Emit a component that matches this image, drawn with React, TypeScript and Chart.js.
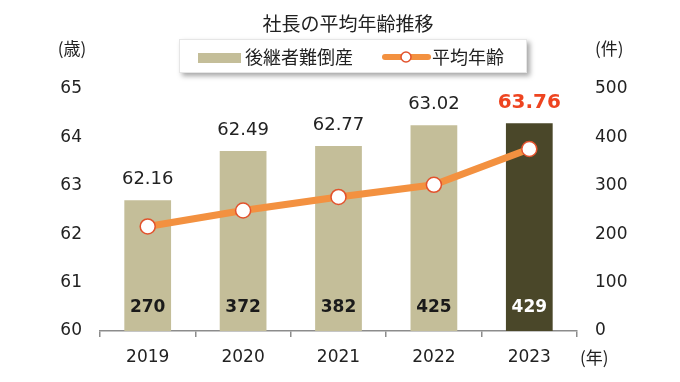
import React, { useEffect, useRef } from "react";
import { Chart, registerables } from "chart.js";

Chart.register(...registerables);

const chartTitle = "社長の平均年齢推移";
const years = ["2019", "2020", "2021", "2022", "2023"];
const bankruptcies = [270, 372, 382, 425, 429];
const averageAge = [62.16, 62.49, 62.77, 63.02, 63.76];
const barSeriesName = "後継者難倒産";
const lineSeriesName = "平均年齢";
const leftUnit = "(歳)";
const rightUnit = "(件)";
const xUnit = "(年)";

const NUM_FONT = "'DejaVu Sans', Verdana, sans-serif";
const JP_FONT = "'Noto Sans CJK JP', 'Noto Sans', sans-serif";
const BAR_COLOR = "#c4be99";
const BAR_LAST = "#4a4729";
const LINE_COLOR = "#f39140";
const POINT_BORDER = "#e2522c";
const RED_LABEL = "#ee4420";

const overlayPlugin = {
  id: "overlay",
  afterDraw(chart: any) {
    const ctx: CanvasRenderingContext2D = chart.ctx;
    const area = chart.chartArea;
    ctx.save();

    // Title
    ctx.fillStyle = "#222";
    ctx.font = `19px ${JP_FONT}`;
    ctx.textAlign = "center";
    ctx.textBaseline = "middle";
    ctx.fillText(chartTitle, 348, 24);

    // Legend box with shadow
    ctx.save();
    ctx.shadowColor = "rgba(0,0,0,0.35)";
    ctx.shadowBlur = 5;
    ctx.shadowOffsetX = 3;
    ctx.shadowOffsetY = 3;
    ctx.fillStyle = "#fff";
    ctx.fillRect(179, 39, 348, 34);
    ctx.restore();
    ctx.strokeStyle = "#e6e6e6";
    ctx.lineWidth = 1;
    ctx.strokeRect(179.5, 39.5, 347, 33);

    // Legend: bar
    ctx.fillStyle = BAR_COLOR;
    ctx.fillRect(198, 53, 43, 10);
    ctx.fillStyle = "#222";
    ctx.font = `18px ${JP_FONT}`;
    ctx.textAlign = "left";
    ctx.textBaseline = "middle";
    ctx.fillText(barSeriesName, 245, 57);

    // Legend: line
    ctx.strokeStyle = LINE_COLOR;
    ctx.lineWidth = 6;
    ctx.lineCap = "round";
    ctx.beginPath();
    ctx.moveTo(385, 57);
    ctx.lineTo(428, 57);
    ctx.stroke();
    ctx.beginPath();
    ctx.arc(406, 57, 5, 0, Math.PI * 2);
    ctx.fillStyle = "#fff";
    ctx.fill();
    ctx.lineWidth = 1.5;
    ctx.strokeStyle = POINT_BORDER;
    ctx.stroke();
    ctx.fillStyle = "#222";
    ctx.fillText(lineSeriesName, 432, 57);

    // Units
    ctx.font = `17px ${JP_FONT}`;
    ctx.textAlign = "center";
    ctx.fillText(leftUnit, 72, 49);
    ctx.textAlign = "left";
    ctx.fillText(rightUnit, 595, 49);
    ctx.fillText(xUnit, 580, 358);

    // Value labels
    const barMeta = chart.getDatasetMeta(1);
    const n = barMeta.data.length;
    barMeta.data.forEach((bar: any, i: number) => {
      const last = i === n - 1;
      ctx.font = `bold 17px ${NUM_FONT}`;
      ctx.fillStyle = last ? "#ffffff" : "#1a1a1a";
      ctx.textAlign = "center";
      ctx.textBaseline = "middle";
      ctx.fillText(String(bankruptcies[i]), bar.x, area.bottom - 23);
      if (last) {
        ctx.font = `bold 20px ${NUM_FONT}`;
        ctx.fillStyle = RED_LABEL;
      } else {
        ctx.font = `18px ${NUM_FONT}`;
        ctx.fillStyle = "#222";
      }
      ctx.fillText(averageAge[i].toFixed(2), bar.x, bar.y - 21);
    });

    ctx.restore();
  },
};

export default function App() {
  const ref = useRef<HTMLCanvasElement | null>(null);

  useEffect(() => {
    document.body.style.margin = "0";
    const canvas = ref.current;
    if (!canvas) return;
    const chart = new Chart(canvas, {
      type: "bar",
      data: {
        labels: years,
        datasets: [
          {
            type: "line",
            label: lineSeriesName,
            data: averageAge,
            yAxisID: "yAge",
            borderColor: LINE_COLOR,
            borderWidth: 7,
            pointRadius: 7.5,
            pointBackgroundColor: "#ffffff",
            pointBorderColor: POINT_BORDER,
            pointBorderWidth: 1.5,
            tension: 0,
            order: 0,
          } as any,
          {
            type: "bar",
            label: barSeriesName,
            data: bankruptcies,
            yAxisID: "yCount",
            backgroundColor: bankruptcies.map((_, i) =>
              i === bankruptcies.length - 1 ? BAR_LAST : BAR_COLOR
            ),
            barPercentage: 0.49,
            categoryPercentage: 1,
            order: 1,
          },
        ],
      },
      options: {
        responsive: false,
        animation: false,
        layout: { padding: { top: 89, left: 0, right: 0, bottom: 0 } },
        plugins: {
          legend: { display: false },
          title: { display: false },
          tooltip: { enabled: false },
        },
        scales: {
          x: {
            offset: true,
            grid: {
              offset: true,
              drawOnChartArea: false,
              drawTicks: true,
              tickLength: 6,
              color: "#8c8c8c",
              lineWidth: 1.5,
            },
            border: { display: true, color: "#8c8c8c", width: 1.5 },
            ticks: {
              color: "#222",
              font: { family: NUM_FONT, size: 17 },
              padding: 10,
            },
            afterFit(axis: any) {
              axis.height = 51;
            },
          },
          yAge: {
            position: "left",
            min: 60,
            max: 65,
            grid: { display: false, drawTicks: false },
            border: { display: false },
            ticks: {
              stepSize: 1,
              color: "#222",
              font: { family: NUM_FONT, size: 17 },
              padding: 18,
            },
            afterFit(axis: any) {
              axis.width = 100;
            },
          },
          yCount: {
            position: "right",
            min: 0,
            max: 500,
            grid: { display: false, drawTicks: false },
            border: { display: false },
            ticks: {
              stepSize: 100,
              color: "#222",
              font: { family: NUM_FONT, size: 17 },
              padding: 18,
            },
            afterFit(axis: any) {
              axis.width = 103;
            },
          },
        },
      },
      plugins: [overlayPlugin],
    });
    return () => chart.destroy();
  }, []);

  return (
    <div style={{ width: 680, height: 382 }}>
      <canvas ref={ref} width={680} height={382} />
    </div>
  );
}
